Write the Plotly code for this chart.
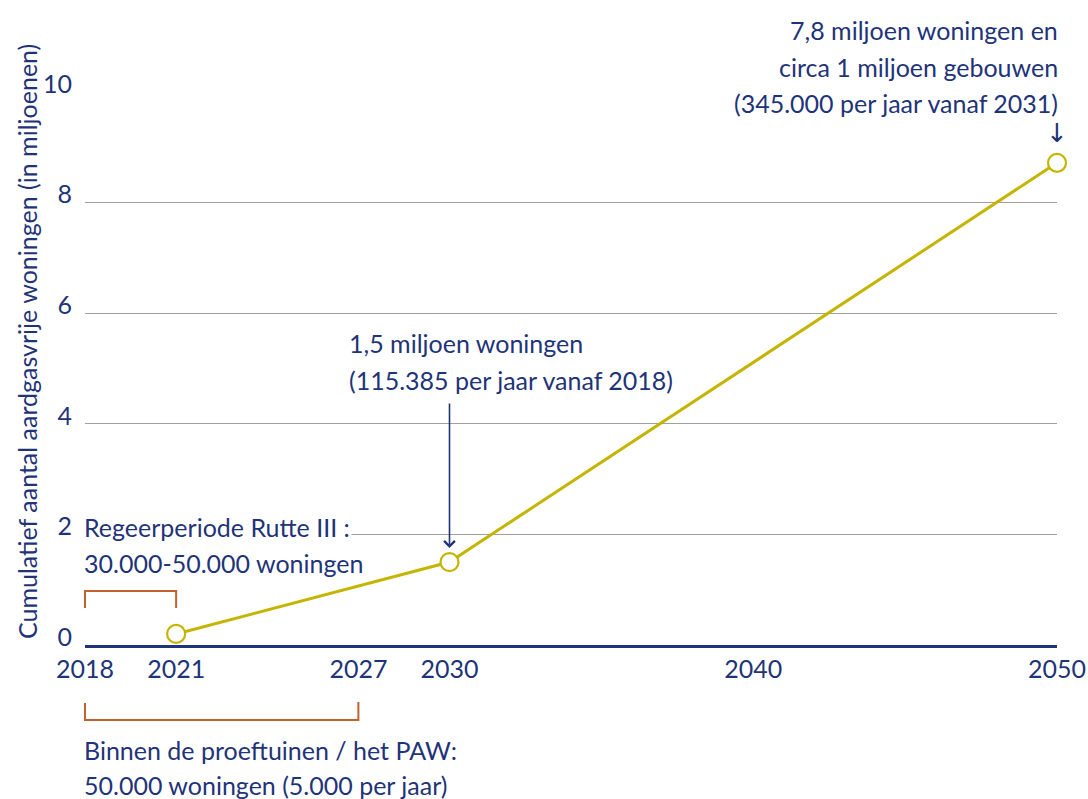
import plotly.graph_objects as go

years = [2021, 2030, 2050]
values = [0.2, 1.5, 8.72]
x_ticks = [2018, 2021, 2027, 2030, 2040, 2050]
y_ticks = [0, 2, 4, 6, 8, 10]
y_title = "Cumulatief aantal aardgasvrije woningen (in miljoenen)"
note_top = ["7,8 miljoen woningen en", "circa 1 miljoen gebouwen", "(345.000 per jaar vanaf 2031)"]
note_mid = ["1,5 miljoen woningen", "(115.385 per jaar vanaf 2018)"]
note_rutte = ["Regeerperiode Rutte III :", "30.000-50.000 woningen"]
note_paw = ["Binnen de proeftuinen / het PAW:", "50.000 woningen (5.000 per jaar)"]
rutte_span = [2018, 2021]
paw_span = [2018, 2027]

NAVY = "#1f3478"
OLIVE = "#c5b503"
ORANGE = "#c3622c"
GRID = "#a0a0a0"
FONT = "Lato"
FS = 25

X0, X1 = 2018, 2050
PLOT_H = 553  # plot height in px (y range 0..10)


def xd(year):
    return (year - X0) / (X1 - X0)


def yp(px):
    # page pixel row -> paper fraction
    return (645 - px) / PLOT_H


fig = go.Figure()
fig.add_trace(go.Scatter(
    x=years, y=values, mode="lines+markers",
    line=dict(color=OLIVE, width=3),
    marker=dict(size=18, color="white", line=dict(color=OLIVE, width=2.2)),
    cliponaxis=False, hoverinfo="skip", showlegend=False,
))

ann = []
txtfont = dict(family=FONT, size=FS, color=NAVY)
# top annotation (right aligned at 2050)
for txt, py in zip(note_top, [30, 67, 103]):
    ann.append(dict(x=X1, y=yp(py), xref="x", yref="paper", text=txt, showarrow=False,
                    xanchor="right", yanchor="middle", bgcolor="white", xshift=3,
                    font=txtfont))
ann.append(dict(x=X1, y=yp(133), xref="x", yref="paper", text="↓", showarrow=False,
                xanchor="center", yanchor="middle",
                font=dict(family="DejaVu Sans", size=26, color=NAVY)))
# middle annotation
for txt, py in zip(note_mid, [343, 380]):
    ann.append(dict(x=2018 + (349 - 85) / 30.375, y=yp(py), xref="x", yref="paper", text=txt,
                    showarrow=False, xanchor="left", yanchor="middle", bgcolor="white",
                    xshift=-2, font=txtfont))
ann.append(dict(x=years[1], y=(645 - 548) / 55.3, xref="x", yref="y",
                ax=years[1], ay=(645 - 402) / 55.3,
                axref="x", ayref="y", text="", showarrow=True, arrowhead=4,
                arrowsize=1.3, arrowwidth=1.6, arrowcolor=NAVY))
# Rutte
for txt, py in zip(note_rutte, [527, 563]):
    ann.append(dict(x=X0, y=yp(py), xref="x", yref="paper", text=txt, showarrow=False,
                    xanchor="left", yanchor="middle", bgcolor="white", xshift=-3,
                    font=txtfont))
# PAW
for txt, py in zip(note_paw, [750, 785]):
    ann.append(dict(x=X0, y=yp(py), xref="x", yref="paper", text=txt, showarrow=False,
                    xanchor="left", yanchor="middle", xshift=-3, font=txtfont))
# y title
ann.append(dict(x=(27 - 85) / 972, y=yp(342), xref="paper", yref="paper",
                text=y_title, textangle=-90, showarrow=False,
                xanchor="center", yanchor="middle", font=txtfont))

shapes = []
shapes.append(dict(type="path", xref="x domain", yref="y domain",
                   path=f"M {xd(rutte_span[0])},{yp(608)} L {xd(rutte_span[0])},{yp(591)} "
                        f"L {xd(rutte_span[1])},{yp(591)} L {xd(rutte_span[1])},{yp(608)}",
                   line=dict(color=ORANGE, width=2)))
shapes.append(dict(type="path", xref="x domain", yref="y domain",
                   path=f"M {xd(paw_span[0])},{yp(703)} L {xd(paw_span[0])},{yp(720)} "
                        f"L {xd(paw_span[1])},{yp(720)} L {xd(paw_span[1])},{yp(702)}",
                   line=dict(color=ORANGE, width=2)))

fig.update_layout(
    width=1088, height=799,
    margin=dict(l=85, r=31, t=92, b=154),
    paper_bgcolor="white", plot_bgcolor="white",
    font=txtfont,
    annotations=ann, shapes=shapes,
    xaxis=dict(range=[X0, X1], tickvals=x_ticks, ticktext=[str(v) for v in x_ticks],
               showgrid=False, zeroline=False, showline=True, linecolor=NAVY, linewidth=2.5,
               ticks="", ticklabelstandoff=0, tickfont=txtfont, automargin=False),
    yaxis=dict(range=[0, 10], tickvals=y_ticks, showgrid=True, gridcolor=GRID, gridwidth=1,
               zeroline=False, showline=False, ticks="", ticklabelstandoff=12,
               ticklabelshift=-8, tickfont=txtfont, automargin=False),
)

fig.write_html("out.html", config={"displayModeBar": False},
               post_script="document.body.style.margin='0';document.body.style.overflow='hidden';")
